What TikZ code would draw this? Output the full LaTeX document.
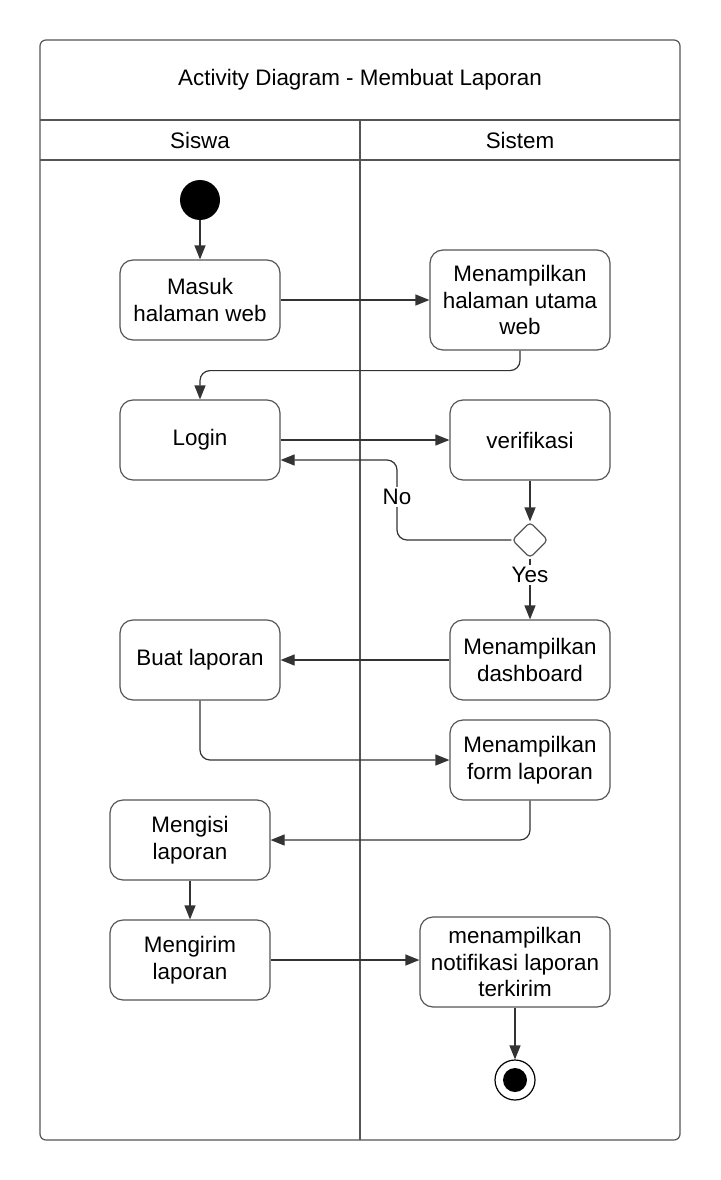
\documentclass[tikz,border=0pt]{standalone}
\usepackage{fontspec}
\setmainfont{Liberation Sans}
\usetikzlibrary{arrows.meta,shapes.geometric,calc}
\definecolor{linec}{HTML}{333333}
\definecolor{framec}{HTML}{555555}
\begin{document}
\begin{tikzpicture}[x=1pt,y=-1pt,
  every node/.style={font=\fontsize{22.4}{26.5}\selectfont},
  act/.style={draw=framec,line width=1.2pt,rounded corners=13pt,align=center,minimum width=160pt,minimum height=80pt,inner sep=2pt},
  conn/.style={draw=linec,line width=1.2pt,rounded corners=10pt,-{Triangle[length=14pt,width=11pt]}},
  lbl/.style={fill=white,inner sep=2pt}
]
\useasboundingbox (0,0) rectangle (720,1180);
% frame
\draw[framec,line width=1.2pt,rounded corners=6pt] (40,40) rectangle (680,1140);
\draw[framec,line width=1.2pt] (40,120) -- (680,120);
\draw[framec,line width=1.2pt] (40,160) -- (680,160);
\draw[framec,line width=1.2pt] (360,120) -- (360,1140);
\node (title) at (360,80) {Activity Diagram - Membuat Laporan};
\node (lane1) at (200,140) {Siswa};
\node (lane2) at (520,140) {Sistem};
% nodes
\node[circle,fill=black,minimum size=40pt,inner sep=0pt] (start) at (200,200) {};
\node[act] (masuk) at (200,300) {Masuk\\halaman web};
\node[act,minimum width=180pt,minimum height=100pt] (halaman) at (520,300) {Menampilkan\\halaman utama\\web};
\node[act] (login) at (200,440) {Login};
\node[act] (verif) at (530,440) {verifikasi};
\node[diamond,draw=framec,line width=1.2pt,rounded corners=4pt,minimum size=36pt,inner sep=0pt] (dec) at (530,540) {};
\node[act] (dash) at (530,660) {Menampilkan\\dashboard};
\node[act] (buat) at (200,660) {Buat laporan};
\node[act] (form) at (530,760) {Menampilkan\\form laporan};
\node[act] (mengisi) at (190,840) {Mengisi\\laporan};
\node[act] (mengirim) at (190,960) {Mengirim\\laporan};
\node[act,minimum width=190pt,minimum height=90pt] (notif) at (515,962) {menampilkan\\notifikasi laporan\\terkirim};
\node[circle,draw=black,line width=1.2pt,minimum size=40pt,inner sep=0pt] (endo) at (515,1080) {};
\node[circle,fill=black,minimum size=24pt,inner sep=0pt] (endi) at (515,1080) {};
% connectors
\draw[conn] (start) -- (masuk);
\draw[conn] (masuk.east) -- (halaman.west);
\draw[conn] (halaman.south) -- ++(0,20) -| (login.north);
\draw[conn] (login.east) -- (verif.west);
\draw[conn] (verif.south) -- (dec.north);
\draw[conn] (dec.west) -| (397,460) -- ($(login.east)+(0,20)$);
\node[lbl] (no) at (397,497) {No};
\draw[conn] (dec.south) -- (dash.north);
\node[lbl] (yes) at (530,575) {Yes};
\draw[conn] (dash.west) -- (buat.east);
\draw[conn] (buat.south) |- (form.west);
\draw[conn] (form.south) |- (mengisi.east);
\draw[conn] (mengisi.south) -- (mengirim.north);
\draw[conn] (mengirim.east) -- (mengirim.east -| notif.west);
\draw[conn] (notif.south) -- (endo.north);
\end{tikzpicture}
\end{document}
